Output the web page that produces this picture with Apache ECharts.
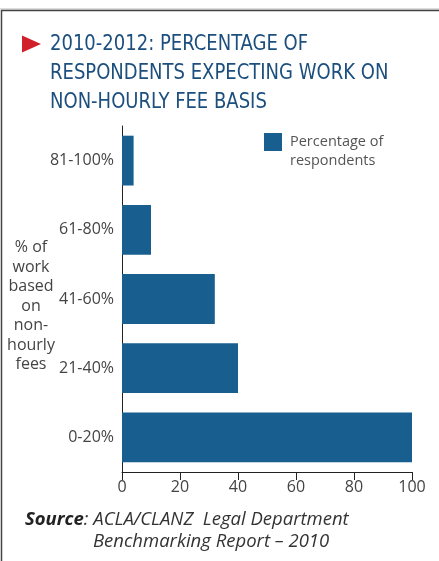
<!DOCTYPE html>
<html>
<head>
<meta charset="utf-8">
<script src="https://cdn.jsdelivr.net/npm/echarts@6/dist/echarts.min.js"></script>
<style>
  html, body { margin: 0; padding: 0; background: #fff; }
  #chart { width: 439px; height: 561px; }
</style>
</head>
<body>
<div id="chart"></div>
<script>
// data
const categories = ['0-20%', '21-40%', '41-60%', '61-80%', '81-100%']
const respondents = [100, 40, 32, 10, 4]
const xTicks = [0, 20, 40, 60, 80, 100]

const barColor = '#185e8f'
const titleFont = '"DejaVu Sans Condensed", "Liberation Sans Narrow", "Open Sans", sans-serif'
const bodyFont = '"Open Sans", "Noto Sans", sans-serif'

const chart = echarts.init(document.getElementById('chart'))

chart.setOption({
  animation: false,
  legend: {
    data: ['Percentage of respondents'],
    left: 264,
    top: 133,
    padding: 0,
    icon: 'rect',
    itemWidth: 18,
    itemHeight: 18,
    itemGap: 8,
    formatter: () => 'Percentage of',
    textStyle: { color: '#555', fontFamily: bodyFont, fontSize: 14.5, lineHeight: 18, padding: [0, 0, 0, 3] }
  },
  grid: { left: 122, right: 27, top: 126, bottom: 89, containLabel: false, outerBoundsMode: 'none' },
  xAxis: {
    type: 'value',
    min: xTicks[0],
    max: xTicks[xTicks.length - 1],
    interval: 20,
    splitLine: { show: false },
    axisLine: { show: true, lineStyle: { color: '#222', width: 1 } },
    axisTick: { show: true, length: 8, lineStyle: { color: '#222' } },
    axisLabel: { color: '#444', fontFamily: bodyFont, fontSize: 16, margin: 7 }
  },
  yAxis: {
    type: 'category',
    data: categories,
    axisLine: { show: true, lineStyle: { color: '#222', width: 1 } },
    axisTick: { show: false },
    axisLabel: { color: '#444', fontFamily: bodyFont, fontSize: 16, margin: 8 }
  },
  series: [{
    name: 'Percentage of respondents',
    type: 'bar',
    data: respondents,
    barCategoryGap: '28%',
    itemStyle: { color: barColor }
  }],
  graphic: [
    { type: 'line', shape: { x1: 0, y1: 9, x2: 439, y2: 9 }, style: { stroke: '#bbb', lineWidth: 1 } },
    { type: 'line', shape: { x1: 1, y1: 10.5, x2: 439, y2: 10.5 }, style: { stroke: '#444', lineWidth: 1.5 } },
    { type: 'line', shape: { x1: 1.5, y1: 10, x2: 1.5, y2: 561 }, style: { stroke: '#444', lineWidth: 1.5 } },
    { type: 'polygon', shape: { points: [[22, 35.5], [41, 44], [22, 52.5]] }, style: { fill: '#d0202a' } },
    {
      type: 'text', x: 50, y: 30, scaleX: 0.91,
      style: {
        text: '2010-2012: PERCENTAGE OF\nRESPONDENTS EXPECTING WORK ON\nNON-HOURLY FEE BASIS',
        font: '22px ' + titleFont, lineHeight: 29, fill: '#1c4f7e'
      }
    },
    {
      type: 'text', x: 290, y: 161,
      style: { text: 'respondents', font: '14.5px ' + bodyFont, fill: '#555', verticalAlign: 'middle' }
    },
    {
      type: 'text', x: 31, y: 238,
      style: {
        text: '% of\nwork\nbased\non\nnon-\nhourly\nfees',
        font: '16px ' + bodyFont, lineHeight: 19.5, fill: '#444', align: 'center'
      }
    },
    {
      type: 'text', left: 25, top: 510,
      style: {
        text: '{b|Source}{i|: ACLA/CLANZ  Legal Department}',
        rich: {
          b: { fontFamily: bodyFont, fontStyle: 'italic', fontWeight: 'bold', fontSize: 18.5, fill: '#222' },
          i: { fontFamily: bodyFont, fontStyle: 'italic', fontSize: 18.5, fill: '#333' }
        }
      }
    },
    {
      type: 'text', left: 93, top: 532,
      style: { text: 'Benchmarking Report – 2010', font: 'italic 18.5px ' + bodyFont, fill: '#333' }
    }
  ]
})
</script>
</body>
</html>
